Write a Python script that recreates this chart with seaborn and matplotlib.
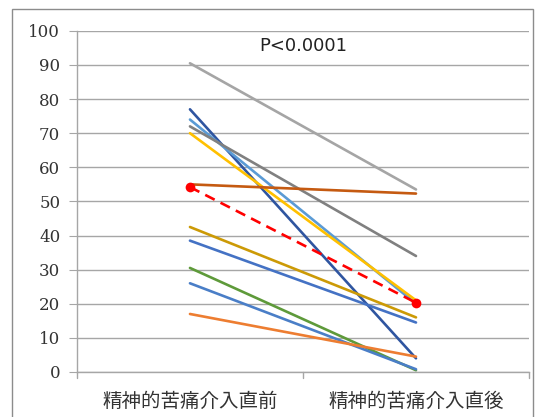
import pandas as pd
import seaborn as sns
import matplotlib.pyplot as plt
from matplotlib.patches import Rectangle

# Datos
fases = ['精神的苦痛介入直前', '精神的苦痛介入直後']
antes = [90.5, 77.0, 74.0, 72.0, 70.0, 55.0, 42.5, 38.5, 30.5, 26.0, 17.0]
despues = [53.5, 4.0, 20.0, 34.0, 21.0, 52.3, 16.0, 14.5, 0.5, 0.8, 4.5]
colores = ['#A5A5A5', '#2F55A0', '#5B9BD5', '#808080', '#FFC000', '#C55A11',
           '#CC9A06', '#4472C4', '#5E9A3A', '#4A7EC7', '#ED7D31']
media = [54.2, 20.3]
texto_p = 'P<0.0001'

filas = []
for i in range(len(antes)):
    filas.append({'id': i, 'fase': 0, 'valor': antes[i]})
    filas.append({'id': i, 'fase': 1, 'valor': despues[i]})
df = pd.DataFrame(filas)
df_media = pd.DataFrame({'fase': [0, 1], 'valor': media})

sns.set_style('white')
plt.rcParams['font.family'] = ['Noto Sans CJK JP', 'DejaVu Sans']

fig = plt.figure(figsize=(5.42, 4.17), dpi=100)
ax = fig.add_axes([0.142, 0.108, 0.834, 0.818])

# marco exterior
fig.patches.append(Rectangle((12 / 542, -0.05), 521 / 542, 1.05 - 9 / 417,
                             transform=fig.transFigure, fill=False,
                             edgecolor='#8C8C8C', linewidth=1.0))

sns.lineplot(data=df, x='fase', y='valor', hue='id', palette=colores,
             linewidth=1.9, legend=False, ax=ax)
sns.lineplot(data=df_media, x='fase', y='valor', color='#FF0000',
             linewidth=1.9, linestyle=(0, (4, 2.5)), marker='o',
             markersize=7, markeredgewidth=0, ax=ax)

ax.set_xlim(-0.5, 1.5)
ax.set_ylim(0, 100)
ax.set_yticks(range(0, 101, 10))
ax.set_yticklabels([str(v) for v in range(0, 101, 10)])
for etiqueta in ax.get_yticklabels():
    etiqueta.set_fontfamily('DejaVu Serif')
    etiqueta.set_fontsize(12)
    etiqueta.set_color('#333333')
ax.set_xticks([0, 1])
ax.set_xticklabels(fases, fontsize=14, color='#333333')
ax.set_xlabel('')
ax.set_ylabel('')
ax.grid(axis='y', color='#A6A6A6', linewidth=1.0)
ax.set_axisbelow(True)
for lado in ['top', 'right']:
    ax.spines[lado].set_visible(False)
for lado in ['left', 'bottom']:
    ax.spines[lado].set_color('#A6A6A6')
    ax.spines[lado].set_linewidth(1.0)
ax.tick_params(axis='y', length=6, color='#A6A6A6', pad=6, left=True)
ax.tick_params(axis='x', length=0, pad=14)
# marcas de separación en el eje x
for xv in [-0.5, 0.5, 1.5]:
    ax.plot([xv, xv], [0, -1.8], color='#A6A6A6', linewidth=1.0,
            clip_on=False)

ax.text(0.5, 95.5, texto_p, ha='center', va='center', fontsize=13,
        family='DejaVu Sans', color='#222222')

plt.savefig('out.png', dpi=100)
